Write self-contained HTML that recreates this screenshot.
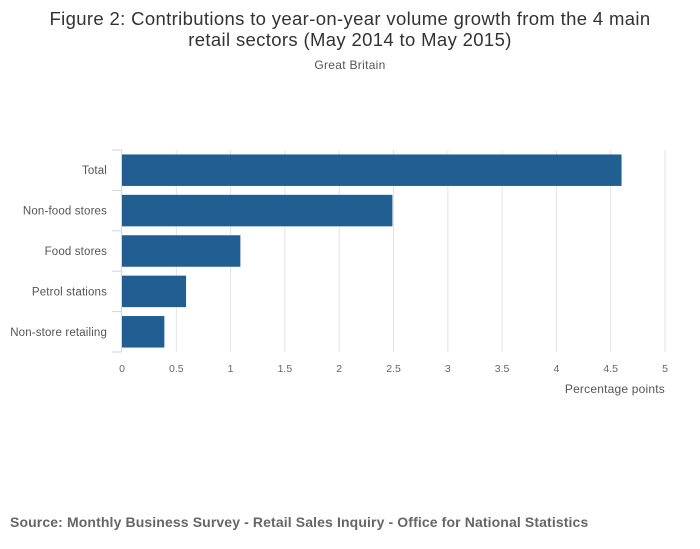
<!DOCTYPE html>
<html><head><meta charset="utf-8"><style>
body{margin:0;background:#fff;}
svg{display:block;font-family:"Liberation Sans",sans-serif;}
</style></head><body>
<svg id="chart" width="700" height="549" viewBox="0 0 700 549">
<text x="350" y="25" text-anchor="middle" font-size="18.5" letter-spacing="0.35" fill="#333">Figure 2: Contributions to year-on-year volume growth from the 4 main</text>
<text x="350" y="46" text-anchor="middle" font-size="18.5" letter-spacing="0.35" fill="#333">retail sectors (May 2014 to May 2015)</text>
<text x="350" y="69" text-anchor="middle" font-size="12" letter-spacing="0.3" fill="#555">Great Britain</text>
<g id="grid"></g>
<g id="bars"></g>
<g id="yaxis"></g>
<g id="xaxis"></g>
<text x="665" y="393" text-anchor="end" font-size="12" letter-spacing="0.2" fill="#555">Percentage points</text>
<text x="10" y="527" font-size="14" letter-spacing="0.12" font-weight="bold" fill="#666">Source: Monthly Business Survey - Retail Sales Inquiry - Office for National Statistics</text>
</svg>
<script>
const categories=["Total","Non-food stores","Food stores","Petrol stations","Non-store retailing"];
const values=[4.6,2.49,1.09,0.59,0.39];
const xTicks=[0,0.5,1,1.5,2,2.5,3,3.5,4,4.5,5];
const tickLabels=["0","0.5","1","1.5","2","2.5","3","3.5","4","4.5","5"];
const NS="http://www.w3.org/2000/svg";
const x0=122,x1=665,y0=150,y1=352;
const xs=v=>x0+(v-0)/(5-0)*(x1-x0);
const band=(y1-y0)/categories.length;
function mk(t,a,p){const e=document.createElementNS(NS,t);for(const k in a)e.setAttribute(k,a[k]);p.appendChild(e);return e;}
const grid=document.getElementById('grid'),bars=document.getElementById('bars'),ya=document.getElementById('yaxis'),xa=document.getElementById('xaxis');
xTicks.forEach((t,i)=>{
 if(t>0){const l=mk('line',{x1:xs(t),x2:xs(t),y1:y0,y2:y1,stroke:'#e3e3e3','stroke-width':1},grid);
 
 }
 const tx=mk('text',{x:xs(t),y:372,'text-anchor':'middle','font-size':10.5,fill:'#666'},xa);
 tx.textContent=tickLabels[i];
 
 
});
categories.forEach((c,i)=>{
 const top=y0+i*band;
 const r=mk('rect',{x:x0,y:top+band*0.11,width:xs(values[i])-x0,height:band*0.78,fill:'#215f93'},bars);
 
 
 const tx=mk('text',{x:107,y:top+band/2+4,'text-anchor':'end','font-size':11.5,'letter-spacing':0.15,fill:'#555'},ya);
 tx.textContent=c;
 
 
});
for(let i=0;i<=categories.length;i++){
 const y=y0+i*band;
 const l=mk('line',{x1:112,x2:x0,y1:y,y2:y,stroke:'#ccd6eb','stroke-width':1},ya);
 
 
}
const al=mk('line',{x1:x0-0.5,x2:x0-0.5,y1:y0,y2:y1,stroke:'#ccd6eb','stroke-width':1},ya);


</script>
</body></html>
